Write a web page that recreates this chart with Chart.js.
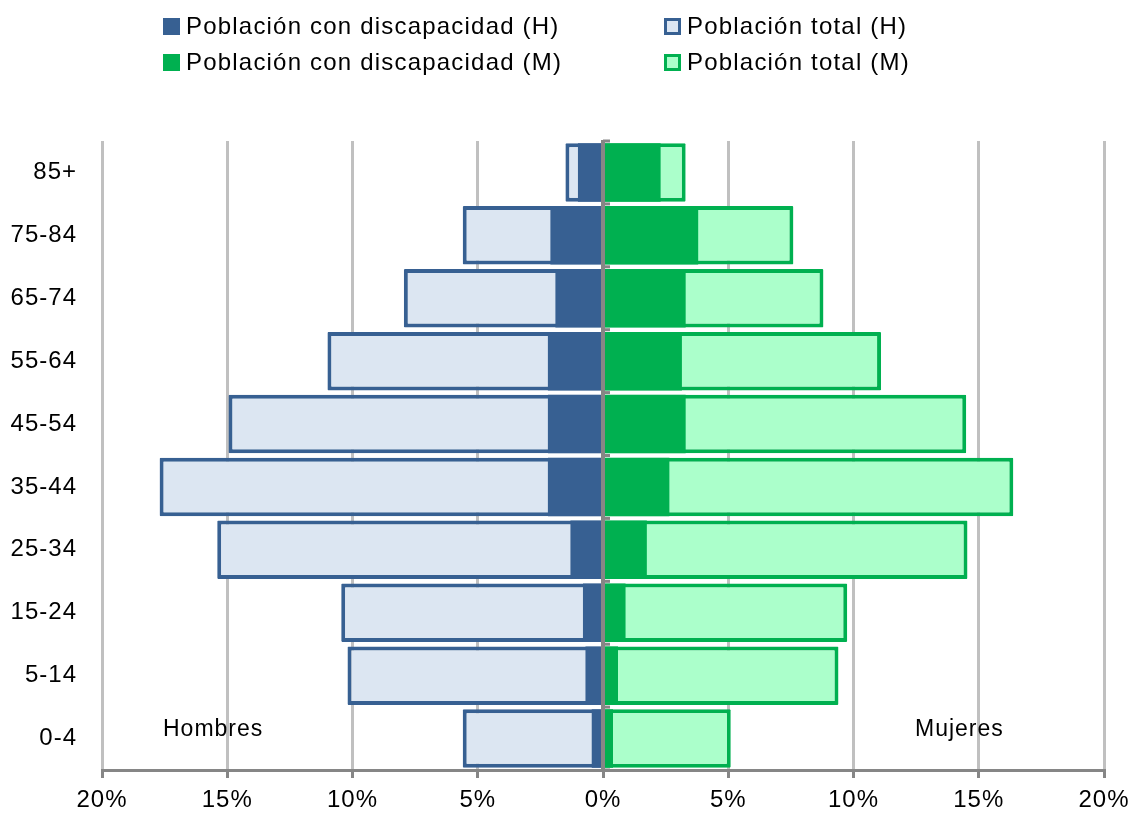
<!DOCTYPE html>
<html>
<head>
<meta charset="utf-8">
<script src="https://cdn.jsdelivr.net/npm/chart.js@4.4.1/dist/chart.umd.min.js"></script>
<style>
  html, body { margin: 0; padding: 0; background: #fff; }
  #wrap { position: relative; width: 1134px; height: 816px; }
  #c { position: absolute; left: 0; top: 0; }
  .lg { position: absolute; display: flex; align-items: center; height: 24px;
        font-family: "Liberation Sans", Arial, sans-serif; font-size: 24px; line-height: 24px;
        letter-spacing: 1.2px; color: #000; white-space: nowrap; }
  .mk { width: 17px; height: 17px; box-sizing: border-box; margin-right: 6px; }
</style>
</head>
<body>
<div id="wrap">
  <canvas id="c" width="1134" height="816"></canvas>
  <div id="legend"></div>
</div>
<script>
// ---- data (percent of population; men negative to the left) ----
const ageGroups = ['0-4', '5-14', '15-24', '25-34', '35-44', '45-54', '55-64', '65-74', '75-84', '85+'];
const menDisability   = [-0.45, -0.7, -0.8, -1.3, -2.2, -2.2, -2.2, -1.9, -2.1, -1.0];
const menTotal        = [-5.6, -10.2, -10.45, -15.4, -17.7, -14.95, -11.0, -7.95, -5.6, -1.5];
const womenDisability = [0.4, 0.6, 0.9, 1.75, 2.65, 3.3, 3.15, 3.3, 3.8, 2.3];
const womenTotal      = [5.1, 9.4, 9.75, 14.55, 16.38, 14.5, 11.1, 8.8, 7.6, 3.3];
const xTicks = [-20, -15, -10, -5, 0, 5, 10, 15, 20];
const seriesNames = ['Población con discapacidad (H)', 'Población total (H)', 'Población con discapacidad (M)', 'Población total (M)'];
const sideLabels = ['Hombres', 'Mujeres'];

const BLUE = '#376092', LBLUE = '#dce6f2', GREEN = '#00b050', LGREEN = '#abffcb';

// ---- HTML legend (2 x 2) ----
const legendItems = [
  { text: seriesNames[0], fill: BLUE, border: BLUE, left: 163, top: 14 },
  { text: seriesNames[1], fill: LBLUE, border: BLUE, left: 664, top: 14 },
  { text: seriesNames[2], fill: GREEN, border: GREEN, left: 163, top: 50 },
  { text: seriesNames[3], fill: LGREEN, border: GREEN, left: 664, top: 50 }
];
const lg = document.getElementById('legend');
legendItems.forEach(it => {
  const d = document.createElement('div');
  d.className = 'lg';
  d.style.left = it.left + 'px';
  d.style.top = it.top + 'px';
  const m = document.createElement('span');
  m.className = 'mk';
  m.style.background = it.fill;
  m.style.border = '3px solid ' + it.border;
  d.appendChild(m);
  const t = document.createElement('span');
  t.textContent = it.text;
  d.appendChild(t);
  lg.appendChild(d);
});

const FONT = "'Liberation Sans', Arial, sans-serif";

const overlay = {
  id: 'overlay',
  beforeDraw(chart) {
    try { chart.ctx.letterSpacing = '1px'; } catch (e) {}
  },
  afterDatasetsDraw(chart) {
    const { ctx, chartArea, scales } = chart;
    const x0 = scales.x.getPixelForValue(0);
    ctx.save();
    ctx.strokeStyle = '#868686';
    ctx.lineWidth = 4;
    ctx.beginPath();
    ctx.moveTo(x0, chartArea.top - 1);
    ctx.lineTo(x0, chartArea.bottom);
    ctx.stroke();
    // small tick marks at category boundaries
    ctx.lineWidth = 3;
    const n = ageGroups.length;
    const step = (chartArea.bottom - chartArea.top) / n;
    for (let i = 0; i <= n; i++) {
      const y = chartArea.top + i * step;
      ctx.beginPath();
      ctx.moveTo(x0, y);
      ctx.lineTo(x0 + 7, y);
      ctx.stroke();
    }
    // side labels
    ctx.fillStyle = '#000';
    ctx.font = '23px ' + FONT;
    ctx.textAlign = 'left';
    ctx.textBaseline = 'alphabetic';
    const yLab = scales.y.getPixelForValue(0) - 3;
    ctx.fillText(sideLabels[0], chartArea.left + 61, yLab);
    ctx.fillText(sideLabels[1], chartArea.right - 189, yLab);
    ctx.restore();
  }
};

new Chart(document.getElementById('c'), {
  type: 'bar',
  data: {
    labels: ageGroups,
    datasets: [
      { label: seriesNames[0], data: menDisability, backgroundColor: BLUE, borderWidth: 0, order: 0 },
      { label: seriesNames[2], data: womenDisability, backgroundColor: GREEN, borderWidth: 0, order: 0 },
      { label: seriesNames[1], data: menTotal, backgroundColor: LBLUE, borderColor: BLUE, borderWidth: 4, borderSkipped: false, borderRadius: 1, order: 1 },
      { label: seriesNames[3], data: womenTotal, backgroundColor: LGREEN, borderColor: GREEN, borderWidth: 4, borderSkipped: false, borderRadius: 1, order: 1 }
    ]
  },
  options: {
    indexAxis: 'y',
    responsive: false,
    animation: false,
    devicePixelRatio: 1,
    datasets: { bar: { grouped: false, categoryPercentage: 1, barPercentage: 0.93 } },
    layout: { padding: { top: 141, right: 30, left: 0, bottom: 0 } },
    plugins: { legend: { display: false }, tooltip: { enabled: false } },
    scales: {
      x: {
        type: 'linear',
        min: -20, max: 20,
        afterBuildTicks(scale) { scale.ticks = xTicks.map(v => ({ value: v })); },
        afterFit(scale) { scale.height = 46; scale.paddingLeft = 0; scale.paddingRight = 0; },
        ticks: {
          color: '#000',
          font: { family: FONT, size: 24 },
          padding: 8,
          maxRotation: 0,
          callback: v => Math.abs(v) + '%'
        },
        grid: {
          color: ctx => (ctx.tick && ctx.tick.value === 0) ? '#868686' : '#c0c0c0',
          lineWidth: 3,
          tickColor: '#868686',
          tickLength: 8,
          drawOnChartArea: true
        },
        border: { display: true, color: '#868686', width: 3 }
      },
      y: {
        reverse: true,
        afterFit(scale) { scale.width = 102; },
        ticks: { color: '#000', font: { family: FONT, size: 24 }, padding: 25 },
        grid: { display: false, drawTicks: false },
        border: { display: false }
      }
    }
  },
  plugins: [overlay]
});
</script>
</body>
</html>
